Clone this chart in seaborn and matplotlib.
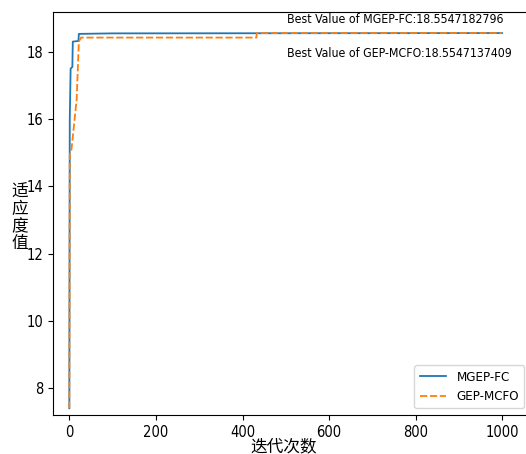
import matplotlib
matplotlib.use('Agg')
import matplotlib.pyplot as plt
import seaborn as sns
import pandas as pd

# breakpoints
mgep_iter = [0, 1, 3, 7, 8, 21, 22, 100, 999]
mgep_fit = [7.41, 16.0, 17.5, 17.55, 18.3, 18.32, 18.53, 18.545, 18.5547182796]

gep_iter = [0, 1, 5, 17, 22, 27, 432, 433, 999]
gep_fit = [7.41, 15.0, 15.1, 16.6, 18.3, 18.42, 18.42, 18.5547137409, 18.5547137409]

best_labels = ['Best Value of MGEP-FC:18.5547182796', 'Best Value of GEP-MCFO:18.5547137409']
series_names = ['MGEP-FC', 'GEP-MCFO']

plt.rcParams['font.family'] = ['DejaVu Sans', 'Noto Sans CJK SC']
plt.rcParams['font.stretch'] = 'condensed'

df = pd.concat([
    pd.DataFrame({'iter': mgep_iter, 'fit': mgep_fit, 'name': series_names[0]}),
    pd.DataFrame({'iter': gep_iter, 'fit': gep_fit, 'name': series_names[1]}),
])

fig = plt.figure(figsize=(5.26, 4.54), dpi=100)
ax = fig.add_axes([53 / 526, 1 - 415 / 454, 478 / 526, 403 / 454])

sns.lineplot(data=df, x='iter', y='fit', hue='name', style='name',
             palette=['#1f77b4', '#ff7f0e'], estimator=None, sort=False,
             linewidth=1.3, ax=ax)

ax.set_xlim(-37.7, 1066)
ax.set_ylim(7.21, 19.18)
ax.set_xticks([0, 200, 400, 600, 800, 1000])
ax.set_yticks([8, 10, 12, 14, 16, 18])
ax.tick_params(labelsize=10.5)

ax.text(503, 18.97, best_labels[0], fontsize=8.8, va='center')
ax.text(503, 17.96, best_labels[1], fontsize=8.8, va='center')

ax.set_xlabel('迭代次数', fontsize=12, family=['Noto Sans CJK SC'], va='center')
ax.xaxis.set_label_coords(0.483, -0.078)
ax.set_ylabel('适\n应\n度\n值', fontsize=12, rotation=0, va='center', ha='center',
              linespacing=1.0, family=['Noto Sans CJK SC'])
ax.yaxis.set_label_coords(-0.069, 0.489)

leg = ax.legend(loc='lower right', fontsize=9.5, title=None)

fig.savefig('out.png', dpi=100)
